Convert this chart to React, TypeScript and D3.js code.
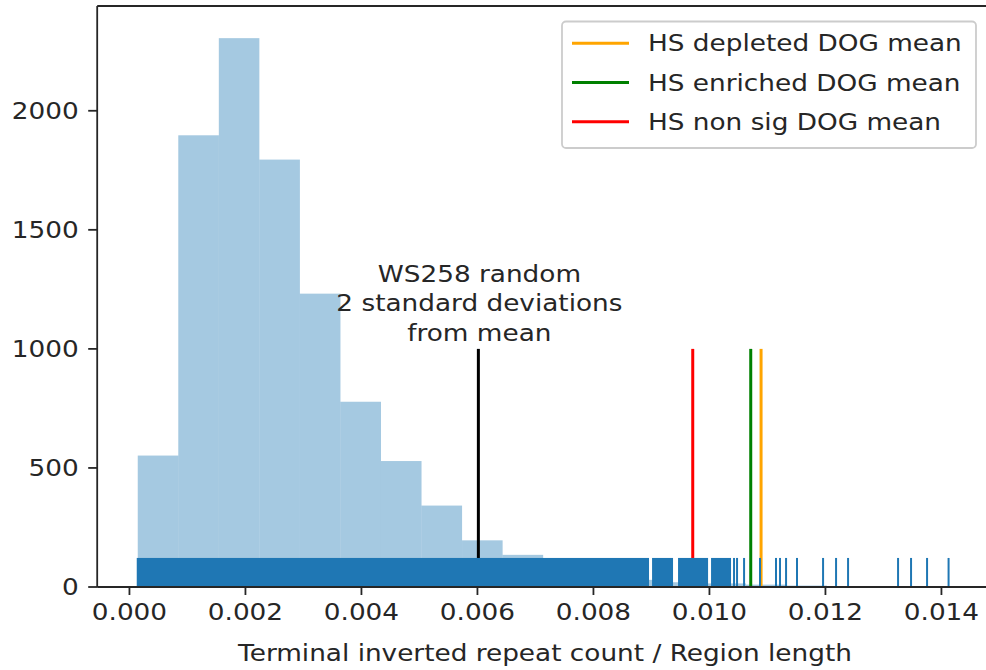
import React from "react";
import * as d3 from "d3";

// ---------- data ----------
const binEdges = [
  0.000143, 0.000842, 0.001541, 0.00224, 0.002939, 0.003638, 0.004337, 0.005036,
  0.005735, 0.006434, 0.007133, 0.007832, 0.008531, 0.00923, 0.009929, 0.010628,
  0.011327, 0.012026, 0.012725, 0.013424, 0.014123,
];
const binCounts = [552, 1897, 2305, 1795, 1232, 778, 529, 342, 196, 135, 70, 45, 30, 20, 15, 10, 6, 4, 3, 2];

// rug: stretches where observations are packed so densely they form a solid band
const rugDenseRanges: [number, number][] = [
  [0.000143, 0.008941],
  [0.009028, 0.009355],
  [0.009476, 0.009959],
  [0.010045, 0.010355],
];
// rug: isolated observations in the tail
const rugSparse = [
  0.010424, 0.010476, 0.010597, 0.010872, 0.011148, 0.011217, 0.011321, 0.01151,
  0.011959, 0.012183, 0.01239, 0.013252, 0.013476, 0.013752, 0.014123,
];

const wsValue = 0.006016;
const wsLabel = ["WS258 random", "2 standard deviations", "from mean"];
const lineHeight = 1000;

const meanLabels = ["HS depleted DOG mean", "HS enriched DOG mean", "HS non sig DOG mean"];
const meanValues = [0.01089, 0.010712, 0.009712];
const meanColors = ["#ffa500", "#008000", "#ff0000"];

const xTicks = [0, 0.002, 0.004, 0.006, 0.008, 0.01, 0.012, 0.014];
const yTicks = [0, 500, 1000, 1500, 2000];
const xLabel = "Terminal inverted repeat count / Region length";

// ---------- layout ----------
const W = 986;
const H = 670;
const SX = 1.17; // horizontal text stretch
const FS = 22.5;
const TXT = "#262626";

const x = d3.scaleLinear().domain([-0.000556, 0.01482]).range([97.2, 989]);
const y = d3.scaleLinear().domain([0, 2440]).range([587, 6]);

const T = ({ x0, y0, anchor = "start", children, size = FS }: any) => (
  <g transform={`translate(${x0},${y0}) scale(${SX},1)`}>
    <text x={0} y={0} textAnchor={anchor} fontSize={size} fill={TXT} fontFamily="DejaVu Sans">
      {children}
    </text>
  </g>
);

export default function App() {
  const y0 = y(0);
  const yTop = y.range()[1];
  const rugTop = y0 - (y0 - yTop) * 0.05;
  const fmt = d3.format(".3f");

  const bins = binCounts.map((c, i) => ({ x0: binEdges[i], x1: binEdges[i + 1], c }));

  return (
    <div style={{ position: "absolute", left: 0, top: 0 }}>
      <svg width={W} height={H} style={{ display: "block", background: "#fff" }}>
        {/* histogram */}
        {bins.map((b, i) => (
          <rect
            key={i}
            x={x(b.x0)}
            y={y(b.c)}
            width={x(b.x1) - x(b.x0)}
            height={y0 - y(b.c)}
            fill="#1f77b4"
            fillOpacity={0.4}
          />
        ))}

        {/* vertical reference lines */}
        <line x1={x(wsValue)} x2={x(wsValue)} y1={y0} y2={y(lineHeight)} stroke="#000" strokeWidth={3} />
        {meanValues.map((v, i) => (
          <line key={i} x1={x(v)} x2={x(v)} y1={y0} y2={y(lineHeight)} stroke={meanColors[i]} strokeWidth={3} />
        ))}

        {/* rug */}
        {rugDenseRanges.map(([a, b], i) => (
          <rect key={i} x={x(a) - 1} y={rugTop} width={x(b) - x(a) + 2} height={y0 - rugTop} fill="#1f77b4" />
        ))}
        {rugSparse.map((v, i) => (
          <line key={i} x1={x(v)} x2={x(v)} y1={y0} y2={rugTop} stroke="#1f77b4" strokeWidth={2} />
        ))}

        {/* annotation */}
        {wsLabel.map((s, i) => (
          <T key={i} x0={x(wsValue) + 1} y0={281.5 + i * 29.7} anchor="middle">
            {s}
          </T>
        ))}

        {/* spines */}
        <line x1={x.range()[0]} x2={x.range()[0]} y1={y0} y2={yTop} stroke={TXT} strokeWidth={1.8} />
        <line x1={x.range()[0]} x2={x.range()[1]} y1={y0} y2={y0} stroke={TXT} strokeWidth={1.8} />
        <line x1={x.range()[0]} x2={x.range()[1]} y1={yTop} y2={yTop} stroke={TXT} strokeWidth={1.8} />
        <line x1={x.range()[1]} x2={x.range()[1]} y1={y0} y2={yTop} stroke={TXT} strokeWidth={1.8} />

        {/* y ticks */}
        {yTicks.map((t) => (
          <g key={t}>
            <line x1={x.range()[0] - 9} x2={x.range()[0]} y1={y(t)} y2={y(t)} stroke={TXT} strokeWidth={1.8} />
            <T x0={x.range()[0] - 18.5} y0={y(t) + 8} anchor="end">
              {String(t)}
            </T>
          </g>
        ))}

        {/* x ticks */}
        {xTicks.map((t) => (
          <g key={t}>
            <line x1={x(t)} x2={x(t)} y1={y0} y2={y0 + 8} stroke={TXT} strokeWidth={1.8} />
            <T x0={x(t)} y0={620} anchor="middle">
              {fmt(t)}
            </T>
          </g>
        ))}
        <T x0={545} y0={661} anchor="middle">
          {xLabel}
        </T>

        {/* legend */}
        <rect x={562} y={21.5} width={414} height={126.5} rx={4} fill="#fff" fillOpacity={0.8} stroke="#cccccc" strokeWidth={1.8} />
        {meanLabels.map((s, i) => {
          const cy = 43.3 + i * 39.2;
          return (
            <g key={i}>
              <line x1={572} x2={629} y1={cy} y2={cy} stroke={meanColors[i]} strokeWidth={3} />
              <T x0={648} y0={cy + 8}>
                {s}
              </T>
            </g>
          );
        })}
      </svg>
    </div>
  );
}
